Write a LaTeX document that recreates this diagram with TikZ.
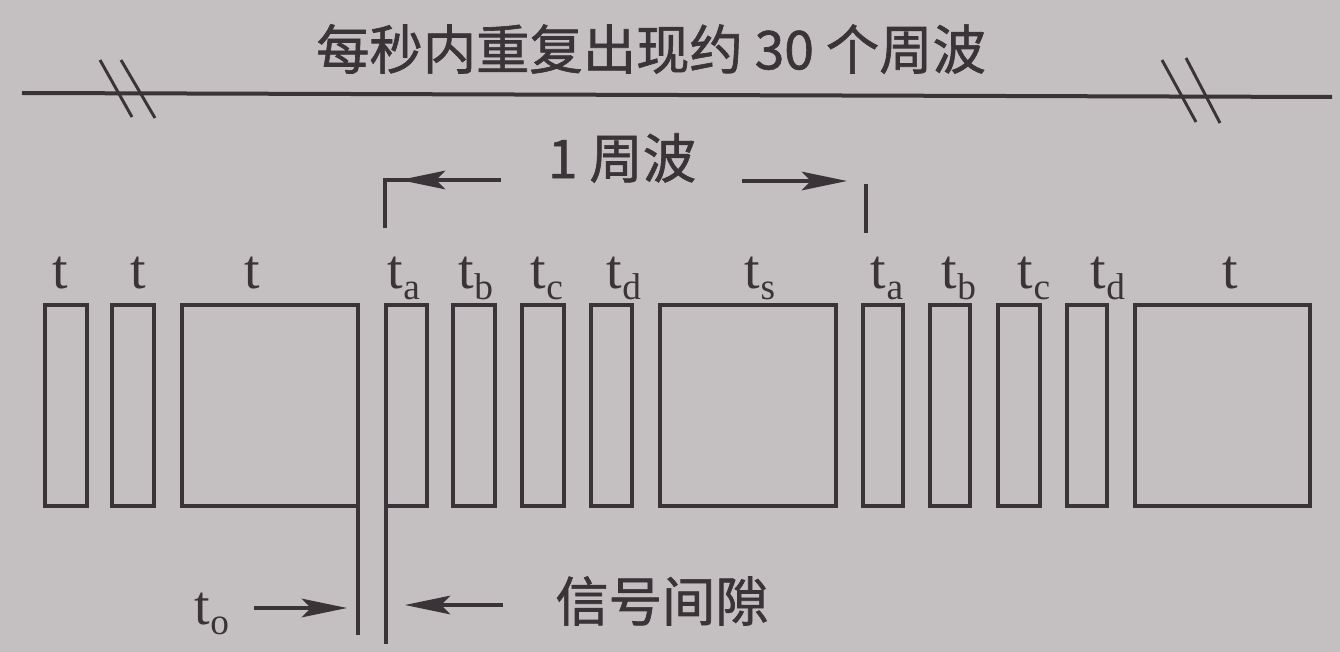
\documentclass[tikz,border=0pt]{standalone}
\usepackage{fontspec}
\newfontfamily\cjk{Noto Sans CJK SC}[FakeBold=1.2]
\newfontfamily\labfont{Liberation Serif}
\usetikzlibrary{arrows.meta}
\definecolor{bg}{RGB}{196,191,193}
\definecolor{ink}{RGB}{58,52,56}
\newcommand\tlab[1]{t\raisebox{-8pt}{\fontsize{28}{30}\selectfont #1}}
\newcommand\pulse[3]{\node[pulsebox, minimum width={(#3-#2)*0.75pt}] (#1) at ({(#2+#3)/2},405.5) {};}
\begin{document}
\begin{tikzpicture}[x=0.75pt,y=-0.75pt,
  pulsebox/.style={draw=ink, line width=3pt, inner sep=0pt, outer sep=0pt, minimum height={201*0.75pt}},
  lab/.style={anchor=base, inner sep=0pt, text=ink, font=\labfont\fontsize{42}{44}\selectfont},
  cjktext/.style={inner sep=0pt, text=ink, font=\cjk\fontsize{40}{42}\selectfont},
  conn/.style={draw=ink, line width=3pt},
  thin/.style={draw=ink, line width=2.2pt},
  arr/.style={draw=ink, line width=2.4pt, -{Stealth[length=34pt,width=14pt,inset=7pt]}}]
\fill[bg] (0,0) rectangle (1340,652);
\useasboundingbox (0,0) rectangle (1340,652);

% title and time line
\node[cjktext] (title) at (651,49) {每秒内重复出现约 30 个周波};
\coordinate (la) at (22,93);
\coordinate (lb) at (1332,97);
\draw[conn] (la) -- (lb);
\coordinate (s1a) at (100,60); \coordinate (s1b) at (132,117);
\coordinate (s2a) at (121,60); \coordinate (s2b) at (155,118);
\coordinate (s3a) at (1162,60); \coordinate (s3b) at (1196,122);
\coordinate (s4a) at (1186,58); \coordinate (s4b) at (1220,123);
\draw[thin] (s1a) -- (s1b);
\draw[thin] (s2a) -- (s2b);
\draw[thin] (s3a) -- (s3b);
\draw[thin] (s4a) -- (s4b);

% pulses
\pulse{b1}{45}{87}
\pulse{b2}{112}{154}
\pulse{b3}{182}{358}
\pulse{b4}{386}{427}
\pulse{b5}{453}{495}
\pulse{b6}{522}{564}
\pulse{b7}{591}{632}
\pulse{b8}{660}{836}
\pulse{b9}{863}{903}
\pulse{b10}{930}{970}
\pulse{b11}{998}{1040}
\pulse{b12}{1067}{1107}
\pulse{b13}{1135}{1310}

% labels
\node[lab] (l1) at (60,289) {t};
\node[lab] (l2) at (138,289) {t};
\node[lab] (l3) at (252,289) {t};
\node[lab] (l4) at (404,289) {\tlab{a}};
\node[lab] (l5) at (476,289) {\tlab{b}};
\node[lab] (l6) at (547,289) {\tlab{c}};
\node[lab] (l7) at (624,289) {\tlab{d}};
\node[lab] (l8) at (760,289) {\tlab{s}};
\node[lab] (l9) at (887,289) {\tlab{a}};
\node[lab] (l10) at (959,289) {\tlab{b}};
\node[lab] (l11) at (1034,289) {\tlab{c}};
\node[lab] (l12) at (1108,289) {\tlab{d}};
\node[lab] (l13) at (1230,289) {t};

% one cycle marker
\node[cjktext] (cyc) at (622,158) {1 周波};
\coordinate (ca) at (385,228);
\coordinate (cb) at (385,180);
\coordinate (cc) at (501,180);
\coordinate (ct) at (400,180);
\draw[conn] (ca) -- (cb) -- (cc);
\draw[arr] (cc) -- (ct);
\coordinate (da) at (742,181);
\coordinate (db) at (847,181);
\draw[arr] (da) -- (db);
\coordinate (dc) at (866,184);
\coordinate (dd) at (866,233);
\draw[conn] (dc) -- (dd);

% signal gap
\coordinate (gL) at (358,635);
\coordinate (gR) at (386,644);
\draw[conn] (b3.south east) -- (gL);
\draw[conn] (b4.south west) -- (gR);
\node[lab, anchor=center] (to) at (212,614) {\tlab{o}};
\coordinate (ea) at (254,608);
\coordinate (eb) at (347,608);
\draw[arr] (ea) -- (eb);
\coordinate (fa) at (503,605);
\coordinate (fb) at (405,605);
\draw[arr] (fa) -- (fb);
\node[cjktext] (gap) at (662,601) {信号间隙};
\end{tikzpicture}
\end{document}
